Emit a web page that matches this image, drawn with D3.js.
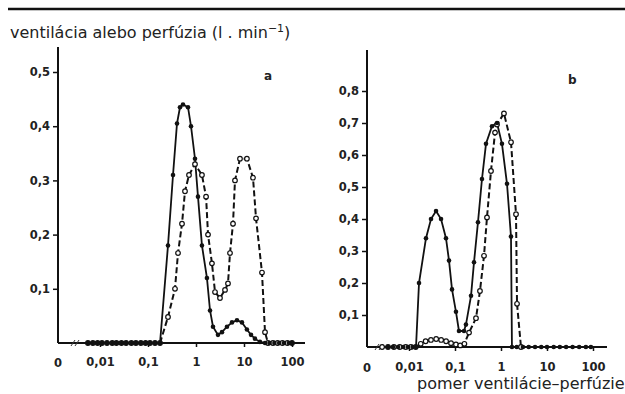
<!DOCTYPE html>
<html>
<head>
<meta charset="utf-8">
<script src="https://cdn.jsdelivr.net/npm/d3@7"></script>
<style>
  body { margin: 0; background: #fff; }
  text { font-family: "DejaVu Sans", "Liberation Sans", Arial, sans-serif; fill: #222; }
</style>
</head>
<body>
<div id="chart"></div>
<script>
// Panel a: V/Q ratio positions and values (l/min)
const ratiosA_solid = [0.0056, 0.0071, 0.0089, 0.011, 0.014, 0.018, 0.022, 0.028, 0.035, 0.045, 0.056, 0.071, 0.089, 0.11, 0.14, 0.178,
    0.261, 0.332, 0.402, 0.464, 0.536, 0.681, 0.787, 0.953, 1.10, 1.33, 1.69, 1.96, 2.26, 2.87, 3.48, 4.42, 5.62, 7.14, 9.07, 11.5, 14.0, 16.9, 21.5, 27.4,
    34, 43, 54, 68, 86, 100];
const perfusionA = [0, 0, 0, 0, 0, 0, 0, 0, 0, 0, 0, 0, 0, 0, 0, 0,
    0.18, 0.31, 0.405, 0.435, 0.44, 0.435, 0.40, 0.34, 0.27, 0.18, 0.12, 0.06, 0.03, 0.015, 0.02, 0.03, 0.038, 0.042, 0.038, 0.025, 0.015, 0.008, 0.002, 0,
    0, 0, 0, 0, 0, 0];

const ratiosA_dashed = [0.0056, 0.0071, 0.0089, 0.011, 0.014, 0.018, 0.022, 0.028, 0.035, 0.045, 0.056, 0.071, 0.089, 0.11, 0.14, 0.178,
    0.261, 0.365, 0.422, 0.511, 0.590, 0.715, 0.953, 1.33, 1.62, 1.78, 2.15, 2.49, 3.16, 4.02, 4.64, 5.11, 5.90, 6.49, 8.25, 11.5, 15.4, 17.8, 23.7, 27.4,
    31.6, 40, 50, 63, 80, 100];
const ventilationA = [0, 0, 0, 0, 0, 0, 0, 0, 0, 0, 0, 0, 0, 0, 0, 0,
    0.048, 0.10, 0.166, 0.22, 0.28, 0.31, 0.33, 0.31, 0.27, 0.20, 0.147, 0.094, 0.083, 0.098, 0.11, 0.166, 0.22, 0.30, 0.34, 0.34, 0.305, 0.23, 0.13, 0.02,
    0, 0, 0, 0, 0, 0];

// Panel b
const ratiosB_solid = [0.0035, 0.0045, 0.0058, 0.0075, 0.0095, 0.012, 0.0142,
    0.0165, 0.0234, 0.0301, 0.0387, 0.0497, 0.0637, 0.0741, 0.0861, 0.105, 0.122, 0.157, 0.173, 0.223, 0.259, 0.316, 0.386, 0.472, 0.637, 0.819, 1.05, 1.35, 1.65, 1.73,
    2.2, 3, 4, 5.5, 7.5, 10, 14, 19, 26, 36, 50, 70, 90];
const perfusionB = [0, 0, 0, 0, 0, 0, 0,
    0.20, 0.34, 0.40, 0.425, 0.40, 0.34, 0.27, 0.18, 0.11, 0.05, 0.05, 0.07, 0.16, 0.265, 0.39, 0.525, 0.635, 0.69, 0.70, 0.635, 0.51, 0.345, 0,
    0, 0, 0, 0, 0, 0, 0, 0, 0, 0, 0, 0, 0];

const ratiosB_dashed = [0.0026, 0.0035, 0.0047, 0.0063, 0.0085, 0.011, 0.014,
    0.018, 0.023, 0.030, 0.039, 0.050, 0.064, 0.082, 0.105, 0.13, 0.16,
    0.202, 0.286, 0.349, 0.427, 0.496, 0.606, 0.741, 0.819, 1.16, 1.65, 2.12, 2.23, 2.72];
const ventilationB = [0, 0, 0, 0, 0, 0, 0,
    0.01, 0.018, 0.022, 0.025, 0.022, 0.018, 0.012, 0.008, 0.005, 0.01,
    0.045, 0.09, 0.175, 0.285, 0.405, 0.55, 0.67, 0.695, 0.73, 0.64, 0.415, 0.135, 0];

const xTicks = [0.01, 0.1, 1, 10, 100];
const yTicksA = [0.1, 0.2, 0.3, 0.4, 0.5];
const yTicksB = [0.1, 0.2, 0.3, 0.4, 0.5, 0.6, 0.7, 0.8];

document.addEventListener('DOMContentLoaded', function() {
    const width = 625;
    const height = 394;

    const svg = d3.select('#chart').append('svg')
        .attr('width', width)
        .attr('height', height);

    const comma = d => String(d).replace('.', ',');

    // top rule and y title
    svg.append('line')
        .attr('x1', 8).attr('x2', 625).attr('y1', 9).attr('y2', 9)
        .attr('stroke', '#111').attr('stroke-width', 2.5);

    const title = svg.append('text')
        .attr('x', 10).attr('y', 38)
        .style('font-size', '16px');
    title.append('tspan').text('ventilácia alebo perfúzia (l . min');
    title.append('tspan').attr('dy', -6).style('font-size', '11px').text('−1');
    title.append('tspan').attr('dy', 6).text(')');

    svg.append('text')
        .attr('x', 417).attr('y', 389)
        .style('font-size', '16px')
        .text('pomer ventilácie–perfúzie');

    function panel(cfg) {
        const x = d3.scaleLog().domain([0.01, 100]).range(cfg.xRange);
        const y = d3.scaleLinear().domain([0, cfg.yMax]).range(cfg.yRange);
        const g = svg.append('g');

        // y axis
        const yAxis = g.append('g')
            .attr('transform', `translate(${cfg.x0},0)`)
            .call(d3.axisLeft(y).tickValues(cfg.yTicks).tickSize(5).tickPadding(3).tickFormat(comma));
        yAxis.select('.domain').remove();
        yAxis.selectAll('line').attr('stroke', '#111').attr('stroke-width', 1.5);
        yAxis.selectAll('text').style('font-size', '11.5px').style('font-weight', 'bold').attr('fill', '#333');

        g.append('line')
            .attr('x1', cfg.x0).attr('x2', cfg.x0)
            .attr('y1', cfg.yTop).attr('y2', y(0))
            .attr('stroke', '#111').attr('stroke-width', 2);

        // x axis
        const xAxis = g.append('g')
            .attr('transform', `translate(0,${y(0)})`)
            .call(d3.axisBottom(x).tickValues(xTicks).tickSize(4).tickPadding(cfg.pad).tickFormat(comma));
        xAxis.select('.domain').remove();
        xAxis.selectAll('line').attr('stroke', '#111').attr('stroke-width', 1.5);
        xAxis.selectAll('text').style('font-size', '11.5px').style('font-weight', 'bold').attr('fill', '#333');

        g.append('line')
            .attr('x1', cfg.x0).attr('x2', cfg.xEnd)
            .attr('y1', y(0)).attr('y2', y(0))
            .attr('stroke', '#111').attr('stroke-width', 2);

        g.append('text')
            .attr('x', cfg.x0).attr('y', y(0) + cfg.pad + 12.5)
            .attr('text-anchor', 'middle')
            .style('font-size', '11.5px').style('font-weight', 'bold')
            .attr('fill', '#333')
            .text('0');

        // axis break mark
        g.append('path')
            .attr('d', `M${cfg.breakX - 4},${y(0) + 3}L${cfg.breakX},${y(0) - 3}M${cfg.breakX},${y(0) + 3}L${cfg.breakX + 4},${y(0) - 3}`)
            .attr('stroke', '#333').attr('stroke-width', 1).attr('fill', 'none');

        g.append('text')
            .attr('x', cfg.labelX).attr('y', cfg.labelY)
            .style('font-size', '12px').style('font-weight', 'bold')
            .text(cfg.label);

        const line = d3.line().x(d => x(d[0])).y(d => y(d[1]));

        const dashed = d3.zip(cfg.dashedX, cfg.dashedY);
        const solid = d3.zip(cfg.solidX, cfg.solidY);

        g.append('path')
            .datum(dashed)
            .attr('d', line)
            .attr('fill', 'none')
            .attr('stroke', '#111')
            .attr('stroke-width', 2)
            .attr('stroke-dasharray', '6,3');

        g.append('path')
            .datum(solid)
            .attr('d', line)
            .attr('fill', 'none')
            .attr('stroke', '#111')
            .attr('stroke-width', 1.8);

        g.selectAll('.open')
            .data(dashed)
            .enter().append('circle')
            .attr('class', 'open')
            .attr('cx', d => x(d[0]))
            .attr('cy', d => y(d[1]))
            .attr('r', 2.3)
            .attr('fill', '#fff')
            .attr('stroke', '#111')
            .attr('stroke-width', 1.2);

        g.selectAll('.filled')
            .data(solid)
            .enter().append('circle')
            .attr('class', 'filled')
            .attr('cx', d => x(d[0]))
            .attr('cy', d => y(d[1]))
            .attr('r', 2.3)
            .attr('fill', '#111');
    }

    panel({
        xRange: [100, 292], x0: 58, xEnd: 305, yMax: 0.5, yRange: [343, 72], yTop: 47,
        yTicks: yTicksA, pad: 11, breakX: 75, labelX: 264, labelY: 80, label: 'a',
        solidX: ratiosA_solid, solidY: perfusionA, dashedX: ratiosA_dashed, dashedY: ventilationA
    });

    panel({
        xRange: [409, 593], x0: 367, xEnd: 607, yMax: 0.8, yRange: [347, 91], yTop: 50,
        yTicks: yTicksB, pad: 12, breakX: 379, labelX: 568, labelY: 84, label: 'b',
        solidX: ratiosB_solid, solidY: perfusionB, dashedX: ratiosB_dashed, dashedY: ventilationB
    });
});
</script>
</body>
</html>
